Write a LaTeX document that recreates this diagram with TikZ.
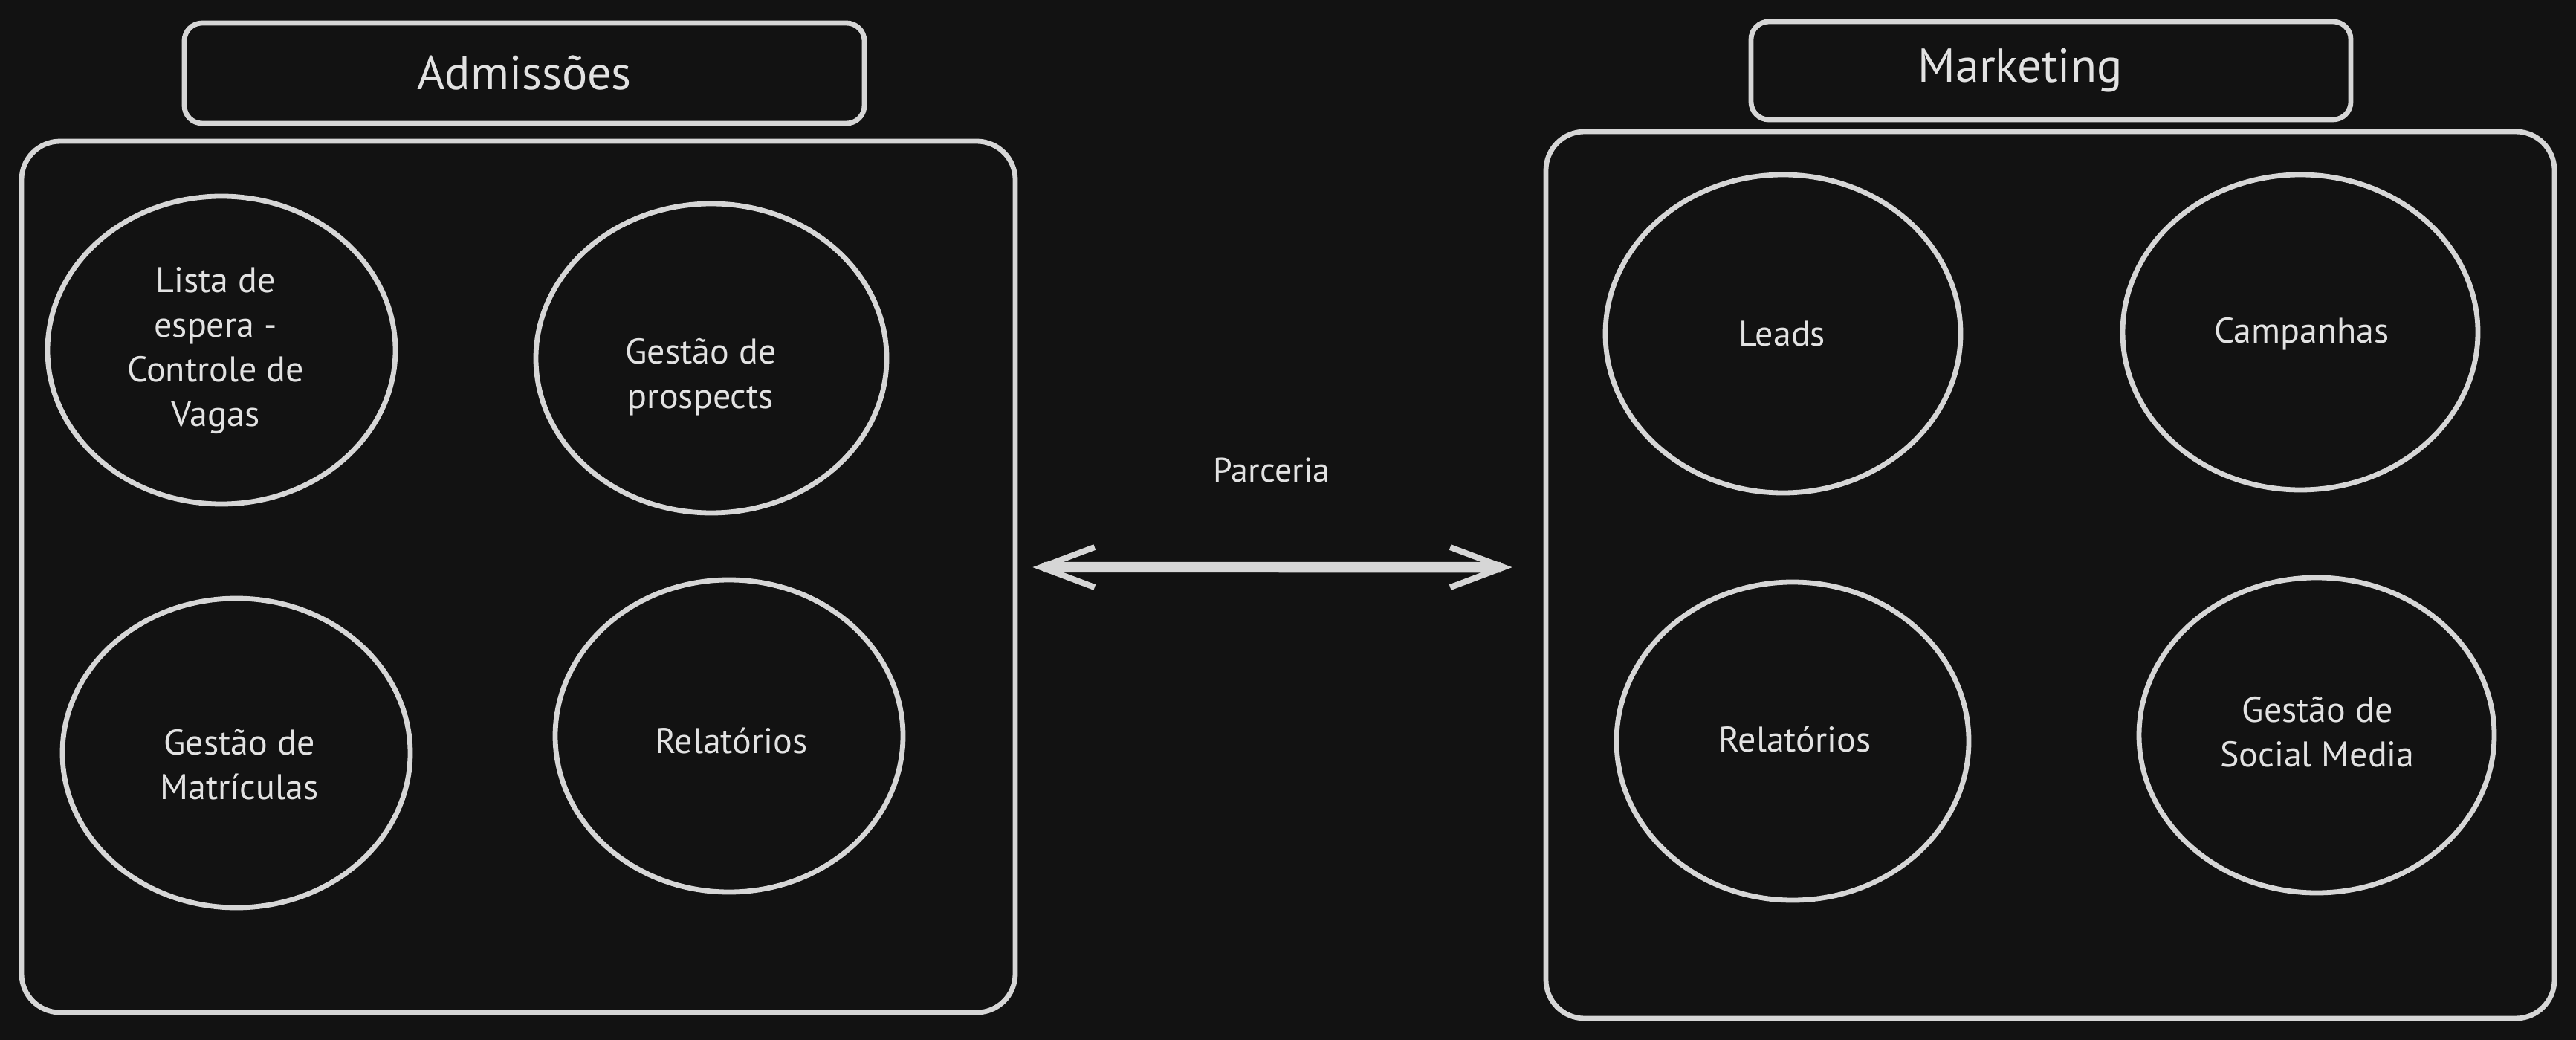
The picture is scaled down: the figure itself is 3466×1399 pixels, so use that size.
\documentclass[tikz,border=0pt]{standalone}
\usepackage{fontspec}
\setmainfont{PT Sans}
\usetikzlibrary{shapes.geometric,arrows.meta}
\definecolor{bg}{HTML}{121212}
\definecolor{ink}{HTML}{D6D6D6}
\definecolor{txtc}{HTML}{E2E2E2}
\tikzset{
  px/.style={x=0.25pt,y=-0.25pt},
  titlebox/.style={draw=ink,line width=1.7pt,rounded corners=6pt,inner sep=0pt,
    text=txtc,font=\fontsize{16}{19}\selectfont},
  titletext/.style={text=txtc,font=\fontsize{16}{19}\selectfont,inner sep=0pt},
  groupbox/.style={draw=ink,line width=1.7pt,rounded corners=13pt,inner sep=0pt},
  blob/.style={ellipse,draw=ink,line width=1.7pt,inner sep=0pt},
  blobtext/.style={text=txtc,align=center,font=\fontsize{12}{15}\selectfont,inner sep=0pt},
  linktext/.style={text=txtc,font=\fontsize{11.5}{14}\selectfont,inner sep=0pt},
  link/.style={draw=ink,line width=3.6pt,
    {Straight Barb[length=18pt,width=13.5pt,line width=2pt]}-{Straight Barb[length=18pt,width=13.5pt,line width=2pt]}}
}
\begin{document}
\begin{tikzpicture}[px]
\fill[bg] (0,0) rectangle (3466,1399);
\useasboundingbox (0,0) rectangle (3466,1399);
% titles
\node[titlebox,minimum width=228.75pt,minimum height=33.75pt] (tadm) at (705.5,98.5) {};
\node[titletext] (tadmtxt) at (705.5,98.5) {Admissões};
\node[titlebox,minimum width=201.75pt,minimum height=33pt] (tmkt) at (2759.5,95) {};
\node[titletext] (tmkttxt) at (2718,95) {Marketing};
% group boxes
\node[groupbox,minimum width=334.25pt,minimum height=293pt] (badm) at (697.5,776) {};
\node[groupbox,minimum width=339.25pt,minimum height=298.25pt] (bmkt) at (2758.5,773.5) {};
% left circles
\node[blob,minimum width=117pt,minimum height=103.5pt] (c1) at (298,471) {};
\node[blob,minimum width=118pt,minimum height=104pt] (c2) at (957,482) {};
\node[blob,minimum width=117pt,minimum height=104pt] (c3) at (318,1013) {};
\node[blob,minimum width=117pt,minimum height=105pt] (c4) at (981,990) {};
% right circles
\node[blob,minimum width=119.5pt,minimum height=107pt] (c5) at (2399,449) {};
\node[blob,minimum width=119.5pt,minimum height=106pt] (c6) at (3095,447) {};
\node[blob,minimum width=118.5pt,minimum height=107pt] (c7) at (2412,997) {};
\node[blob,minimum width=119.5pt,minimum height=106pt] (c8) at (3117,989) {};
% texts
\node[blobtext] (t1) at (290,472) {Lista de\\espera -\\Controle de\\Vagas};
\node[blobtext] (t2) at (943,507) {Gestão de\\prospects};
\node[blobtext] (t3) at (322,1029) {Gestão de\\Matrículas};
\node[blobtext] (t4) at (984,997) {Relatórios};
\node[blobtext] (t5) at (2398,449) {Leads};
\node[blobtext] (t6) at (3097,449) {Campanhas};
\node[blobtext] (t7) at (2415,995) {Relatórios};
\node[blobtext] (t8) at (3118,985) {Gestão de\\Social Media};
% link
\node[linktext] (lbl) at (1711,632) {Parceria};
\draw[link,shorten <=5pt,shorten >=10.5pt] ([yshift=3.25pt]badm.east) -- ([yshift=2.6pt]bmkt.west);
\end{tikzpicture}
\end{document}
